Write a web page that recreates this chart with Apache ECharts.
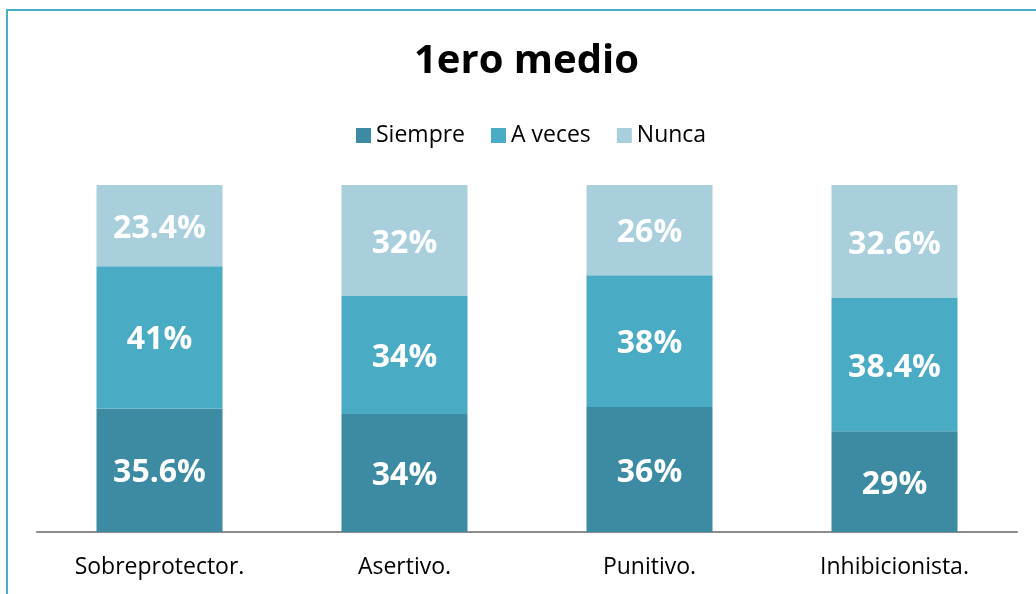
<!DOCTYPE html>
<html>
<head>
<meta charset="utf-8">
<script src="https://cdn.jsdelivr.net/npm/echarts@6/dist/echarts.min.js"></script>
<style>
  html, body { margin: 0; padding: 0; background: #fff; }
  #chart { width: 1036px; height: 594px; }
</style>
</head>
<body>
<div id="chart"></div>
<script>
// categorias y valores (%)
var categories = ['Sobreprotector.', 'Asertivo.', 'Punitivo.', 'Inhibicionista.'];
var siempre = [35.6, 34, 36, 29];
var aVeces = [41, 34, 38, 38.4];
var nunca = [23.4, 32, 26, 32.6];

var seriesNames = ['Siempre', 'A veces', 'Nunca'];
var seriesColors = ['#3d8aa3', '#4aabc5', '#a9cfdc'];
var seriesData = [siempre, aVeces, nunca];

var chart = echarts.init(document.getElementById('chart'));

var series = seriesNames.map(function (name, i) {
    return {
        name: name,
        type: 'bar',
        stack: 'total',
        barWidth: 126,
        data: seriesData[i],
        itemStyle: { color: seriesColors[i] },
        label: {
            show: true,
            position: 'inside',
            offset: [0, 3],
            color: '#fff',
            fontFamily: 'Open Sans',
            fontWeight: 'bold',
            fontSize: 32,
            formatter: function (p) { return p.value + '%'; }
        }
    };
});

var option = {
    animation: false,
    backgroundColor: '#fff',
    title: {
        text: '1ero medio',
        left: 409,
        top: 37,
        textStyle: {
            fontFamily: 'Open Sans',
            fontWeight: 'bold',
            fontSize: 40,
            color: '#000'
        }
    },
    legend: {
        data: seriesNames,
        top: 119,
        left: 351,
        icon: 'rect',
        itemWidth: 15,
        itemHeight: 15,
        itemGap: 26,
        textStyle: {
            fontFamily: 'Open Sans',
            fontSize: 23,
            color: '#000',
            padding: [0, 0, 0, 0]
        }
    },
    grid: {
        left: 37,
        right: 19,
        top: 185,
        bottom: 62
    },
    xAxis: {
        type: 'category',
        data: categories,
        axisLine: { lineStyle: { color: '#8c8c8c', width: 2 } },
        axisTick: { show: false },
        axisLabel: {
            fontFamily: 'Open Sans',
            fontSize: 23,
            color: '#000',
            margin: 24
        }
    },
    yAxis: {
        type: 'value',
        min: 0,
        max: 100,
        show: false
    },
    graphic: [{
        type: 'rect',
        silent: true,
        shape: { x: 7, y: 10, width: 1200, height: 800 },
        style: { fill: 'none', stroke: '#4bacc6', lineWidth: 2 }
    }],
    series: series
};

chart.setOption(option);
</script>
</body>
</html>
